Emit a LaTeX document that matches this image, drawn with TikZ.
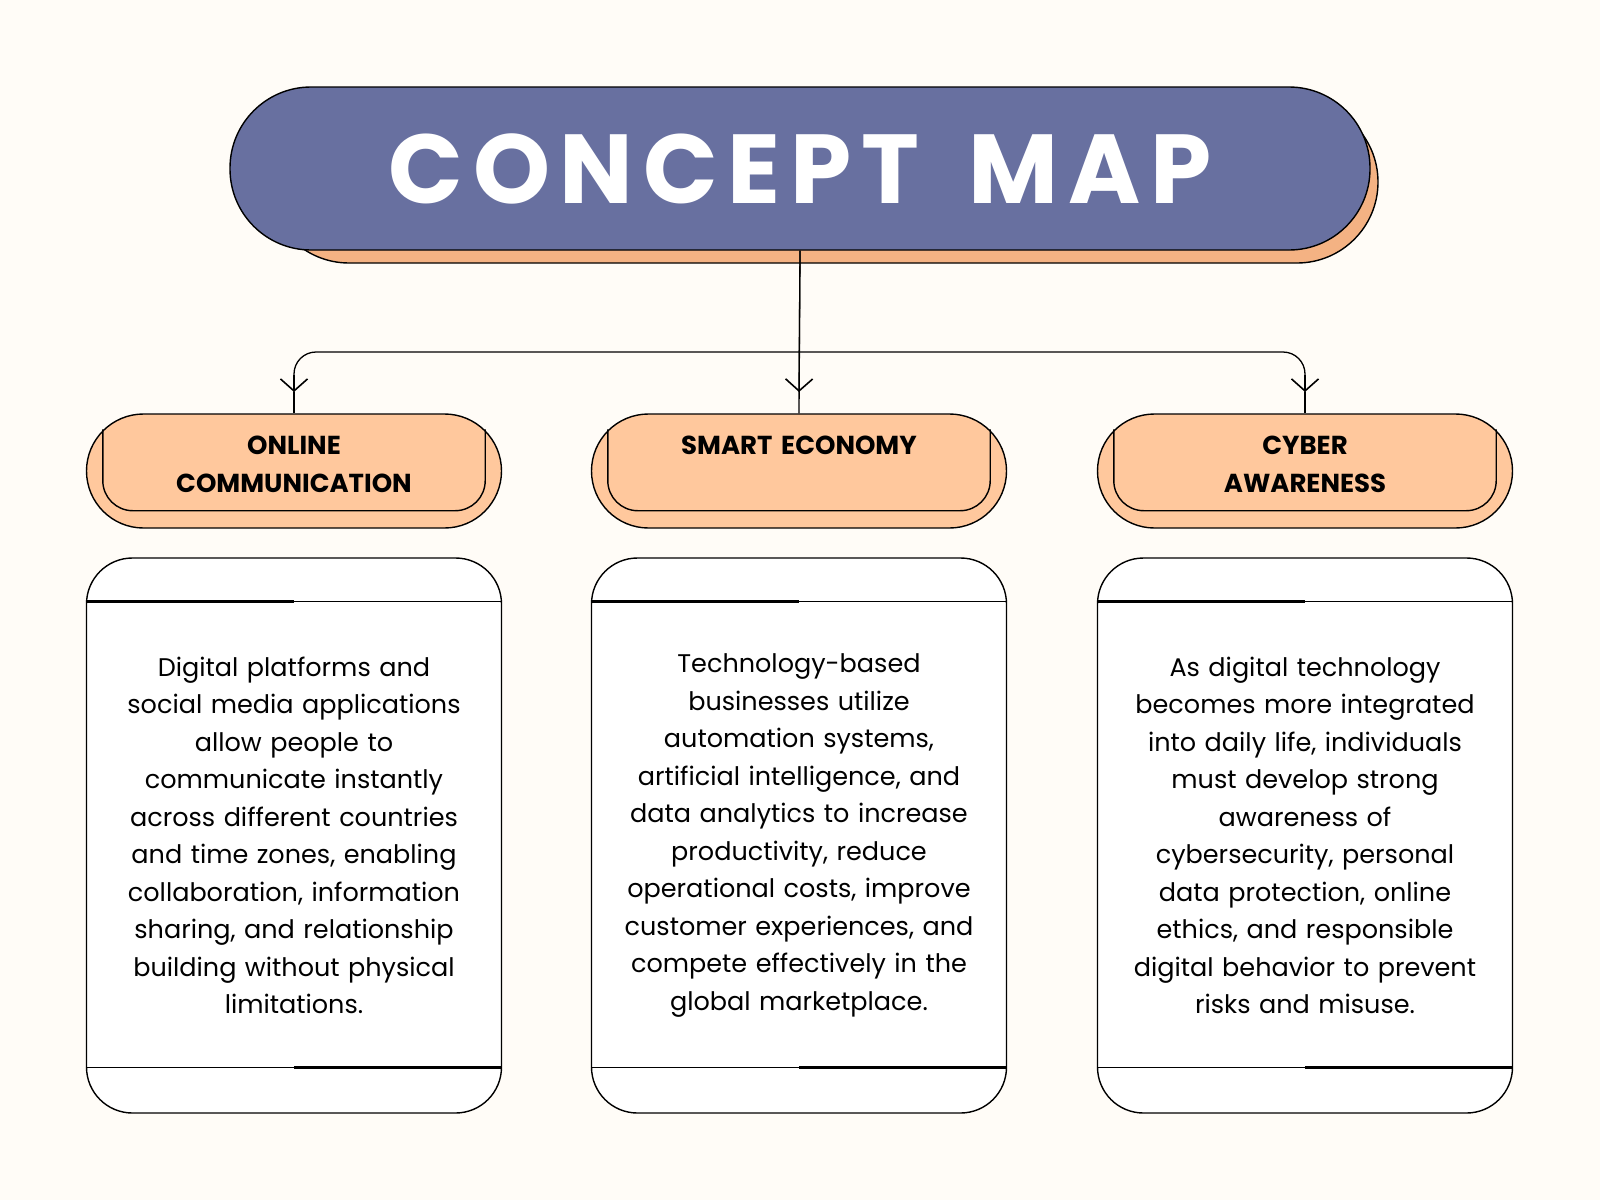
\documentclass[tikz,border=0pt]{standalone}
\usepackage{fontspec}
\setmainfont{Poppins}
\newfontfamily\titlefont[LetterSpace=10,WordSpace=1.6]{Poppins}
\usetikzlibrary{arrows.meta}
\definecolor{bg}{HTML}{FFFCF7}
\definecolor{tblue}{HTML}{6870A0}
\definecolor{shad}{HTML}{F4B283}
\definecolor{hfill}{HTML}{FFC89D}
\begin{document}
\begin{tikzpicture}[x=1pt,y=-1pt,
  lw/.style={line width=1.4pt},
  head/.style={lw,draw=black,fill=hfill,rounded corners=57,minimum width=415,minimum height=114,inner sep=0},
  htext/.style={text width=400,align=center,font=\fontsize{26}{38}\selectfont\bfseries},
  card/.style={lw,draw=black,fill=white,rounded corners=46,minimum width=415,minimum height=555,inner sep=0},
  body/.style={text width=380,align=center,font=\fontsize{25.5}{37.5}\selectfont},
  tip/.style={-{Straight Barb[length=12,width=27,line width=1.6pt]}},
  conn/.style={line width=1.3pt,rounded corners=22}]
\fill[bg] (0,0) rectangle (1600,1200);
\useasboundingbox (0,0) rectangle (1600,1200);
% title
\node[lw,draw=black,fill=shad,rounded corners=81,minimum width=1110,minimum height=162] at (823,182) {};
\node (title)[lw,draw=black,fill=tblue,rounded corners=81,minimum width=1140,minimum height=163,text=white,font=\fontsize{98}{100}\selectfont\bfseries\titlefont] at (800,168.5) {CONCEPT MAP};
% headers
\foreach \i/\x/\t in {1/294/{ONLINE\\COMMUNICATION},2/799/{SMART ECONOMY\\\phantom{X}},3/1305/{CYBER\\AWARENESS}}{
  \node (h\i)[head] at (\x,471) {};
  \node[htext] at ([yshift=7]h\i.center) {\t};
  \draw[lw,rounded corners=30] ([shift={(17,16)}]h\i.north west) -- ([shift={(17,-18)}]h\i.south west) -- ([shift={(-17,-18)}]h\i.south east) -- ([shift={(-17,16)}]h\i.north east);
  \node (c\i)[card] at (\x,835.5) {};
  \draw[lw] ([yshift=-44]c\i.north west) -- ([yshift=-44]c\i.north east);
  \draw[line width=3pt] ([yshift=-44]c\i.north west) -- ([yshift=-44]c\i.north);
  \draw[lw] ([yshift=46]c\i.south west) -- ([yshift=46]c\i.south east);
  \draw[line width=3pt] ([yshift=46]c\i.south) -- ([yshift=46]c\i.south east);
}
\node[body] at (c1) {Digital platforms and\\social media applications\\allow people to\\communicate instantly\\across different countries\\and time zones, enabling\\collaboration, information\\sharing, and relationship\\building without physical\\limitations.};
\node[body] at (c2) {Technology-based\\businesses utilize\\automation systems,\\artificial intelligence, and\\data analytics to increase\\productivity, reduce\\operational costs, improve\\customer experiences, and\\compete effectively in the\\global marketplace.};
\node[body] at (c3) {As digital technology\\becomes more integrated\\into daily life, individuals\\must develop strong\\awareness of\\cybersecurity, personal\\data protection, online\\ethics, and responsible\\digital behavior to prevent\\risks and misuse.};
% connectors
\coordinate (a1) at (294,392);
\coordinate (a2) at (799,392);
\coordinate (a3) at (1305,392);
\draw[line width=1.3pt] (title.south) -- (h2.north);
\draw[line width=1.3pt,tip] (title.south) -- (a2);
\draw[conn] (a1) -- (294,352) -- (1305,352) -- (a3);
\draw[line width=1.3pt,tip] (294,375) -- (a1);
\draw[line width=1.3pt,tip] (1305,375) -- (a3);
\draw[line width=1.3pt] (a1) -- (h1.north);
\draw[line width=1.3pt] (a3) -- (h3.north);
\end{tikzpicture}
\end{document}
